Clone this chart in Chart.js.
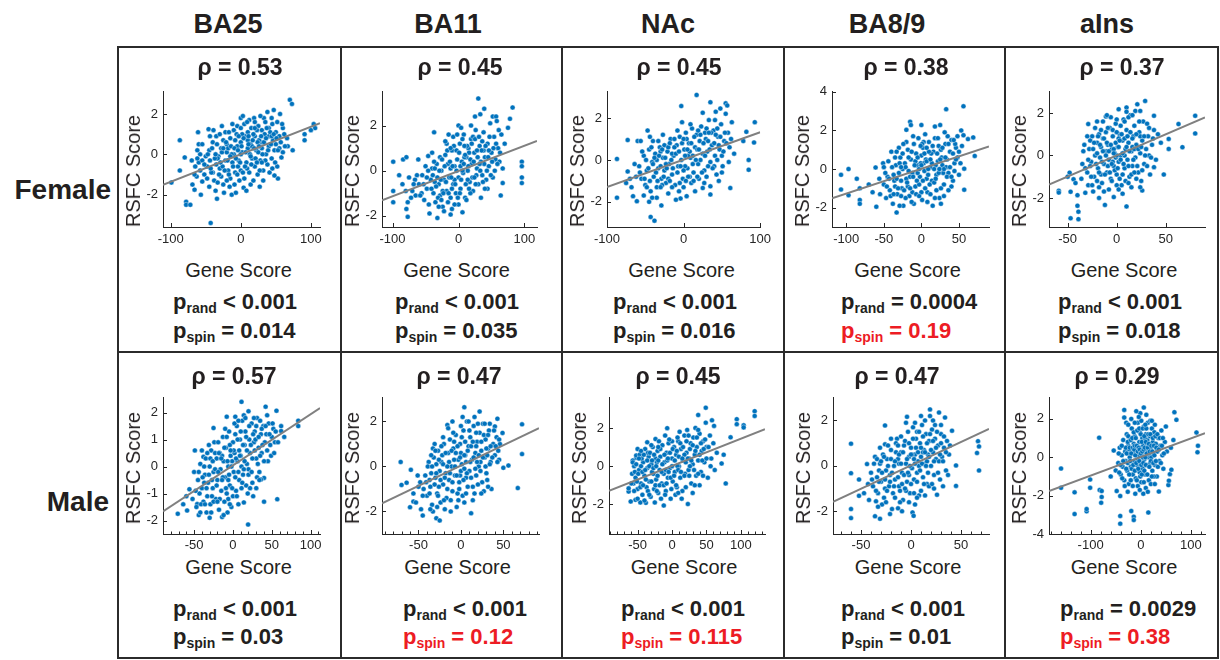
<!DOCTYPE html>
<html><head><meta charset="utf-8">
<script src="https://cdn.jsdelivr.net/npm/chart.js@4/dist/chart.umd.min.js"></script>
<style>
html,body{margin:0;padding:0;background:#fff}
body{width:1220px;height:660px;overflow:hidden;position:relative;font-family:"Liberation Sans",Arial,Helvetica,sans-serif;color:#231f20}
.abs{position:absolute;white-space:nowrap}
.hdr{font-weight:bold;font-size:27px;line-height:27px;transform:translateX(-50%)}
.row{font-weight:bold;font-size:28px;line-height:28px;transform:translateX(-100%)}
.rho{font-weight:bold;font-size:23px;line-height:23px;transform:translateX(-50%)}
.pv{font-weight:bold;font-size:22px;line-height:22px}
.pv .sub{font-size:14px;position:relative;top:4px}
.xt{font-size:20px;line-height:20px;transform:translateX(-50%)}
.yt{font-size:20px;line-height:20px;transform:translate(-50%,-50%) rotate(-90deg)}
.ln{position:absolute;background:#2b2b2b}
canvas{position:absolute}
</style></head><body>
<script>
// ---------------- data ----------------
const regions = ['BA25','BA11','NAc','BA8/9','aIns'];
const sexes = ['Female','Male'];
const rhoValues = ['0.53','0.45','0.45','0.38','0.37','0.57','0.47','0.45','0.47','0.29'];
const pRandText = ['< 0.001','< 0.001','< 0.001','= 0.0004','< 0.001','< 0.001','< 0.001','< 0.001','< 0.001','= 0.0029'];
const pSpinText = ['= 0.014','= 0.035','= 0.016','= 0.19','= 0.018','= 0.03','= 0.12','= 0.115','= 0.01','= 0.38'];
const pSpinSignificant = [true,true,true,false,true,true,false,false,true,false];
const xTickValues = [[-100,0,100],[-100,0,100],[-100,0,100],[-100,-50,0,50],[-50,0,50],[-50,0,50,100],[-50,0,50],[-50,0,50,100],[-50,0,50],[-100,0,100]];
const yTickValues = [[-2,0,2],[-2,0,2],[-2,0,2],[-2,0,2,4],[-2,0,2],[-2,-1,0,1,2],[-2,0,2],[-2,0,2],[-2,0,2],[-4,-2,0,2]];
const xLimits = [[-111,113],[-116,119],[-100,100],[-119,90],[-69,90],[-90,112],[-93,92],[-91.5,135],[-78,78],[-183,128]];
const yLimits = [[-3.6,3.1],[-2.5,3.5],[-3.2,3.25],[-3,4],[-3.37,3.0],[-2.5,2.55],[-3,3.05],[-3.55,3.58],[-3,3],[-4,3.1]];
const fitLineEnds = [
 [[-111,-1.51],[113,1.54]],[[-116,-1.32],[119,1.32]],[[-100,-1.29],[100,1.32]],[[-119,-1.52],[90,1.17]],[[-69,-1.37],[90,1.79]],
 [[-90,-1.66],[112,2.17]],[[-93,-1.64],[92,1.70]],[[-91.5,-1.29],[135,1.94]],[[-78,-1.58],[78,1.63]],[[-183,-1.76],[128,1.26]]];

const female_BA25 = [[70,2.7],[73,2.5],[47,2.2],[0,1.8],[3,1.9],[19,1.8],[33,1.8],[56,2.0],[104,1.5],[106,1.3],[100,1.2],[91,1.0],[91,0.7],[-87,0.7],[-61,1.1],[-46,1.25],[-99,-1.4],[-87,-0.8],[-80,-0.15],[-78,-2.35],[-78,-2.5],[-72,-2.5],[-34,-2.2],[-43,-3.4],[-57,-2.0],[-66,-1.75],[-69,-1.5],[-55,-1.35],[-13,-2.0],[-7,-1.9],[4,-1.65],[27,-1.6],[14,-1.5],[53,-1.2],[48,-1.05],[74,0.2],[67,0.4],[58,-0.15],
[-60,0.5],[-55,0.5],[-62,0.2],[-50,-0.1],[-45,0.2],[-40,0.6],[-35,0.9],[-30,1.0],[-25,0.7],[-20,0.5],[-15,0.8],[-10,1.2],[-5,1.4],[0,1.3],[5,1.5],[10,1.1],[15,1.3],[20,1.6],[25,1.4],[30,1.2],[35,1.6],[40,1.3],[45,1.5],[50,1.1],[55,0.9],[60,1.3],[40,0.9],[30,0.6],[20,0.9],[10,0.7],[-60,-0.4],[-58,-0.8],[-52,-1.0],[-48,-0.6],[-44,-0.3],[-40,-0.9],[-38,-1.3],[-35,-0.5],[-32,-0.1],[-30,-0.7],[-28,-1.1],[-25,-1.5],[-22,-0.3],[-20,0.1],[-18,-0.8],[-15,-1.2],[-12,-0.4],[-10,0.0],[-8,-0.9],[-5,0.4],[-3,-0.3],[0,0.6],[0,-0.8],[2,0.1],[5,-1.2],[6,0.9],[8,-0.4],[10,0.3],[12,-0.9],[14,0.5],[16,-0.2],[18,1.0],[20,-0.6],[22,0.2],[24,-1.0],[26,0.7],[28,-0.3],[30,0.3],[32,-0.8],[34,1.0],[36,0.0],[38,-0.5],[40,0.4],[42,1.1],[44,-0.2],[46,0.7],[48,0.2],[50,0.5],[52,-0.6],[55,0.3],[60,0.1],[-65,-0.6],[-63,-1.1],[-70,-0.3],[-45,-1.6],[-36,-1.8],[-24,-1.9],[-16,-1.6],[-2,-1.3],[8,-1.8],[-28,0.3],[-18,0.3],[-8,0.7],[2,1.0],[-33,-0.2],[-42,-0.9],[-55,-0.3],[12,1.7],[28,1.9],[38,2.1],[-12,1.5],[-22,1.1],[-4,-0.6],[16,0.4],[24,0.6],[-26,-0.6],[-14,0.4],[44,0.9],[62,1.0],[66,0.8],
[-52,-0.5],[-47,0.0],[-43,-0.7],[-41,0.3],[-37,-0.2],[-34,0.5],[-31,-1.0],[-29,-0.4],[-27,0.1],[-23,-0.8],[-21,0.6],[-19,-0.3],[-17,-1.0],[-13,0.0],[-11,-0.6],[-9,0.3],[-7,-0.2],[-6,1.0],[-4,0.2],[-1,-0.4],[1,0.4],[3,-0.9],[4,0.8],[7,0.1],[9,-0.7],[11,0.9],[13,0.0],[15,-0.5],[17,0.7],[19,0.3],[21,-0.2],[23,1.2],[25,0.1],[27,-0.8],[29,0.9],[31,0.0],[33,0.6],[35,-0.3],[37,1.3],[39,0.2],[41,-0.9],[43,0.5],[47,1.0],[49,-0.4],[51,0.8],[53,0.2],[57,0.6],[59,1.5],[63,0.4],[-58,0.0],[-62,-0.2],[-66,-1.0],[-39,1.2],[-27,1.4],[-17,1.1],[-3,0.9],[9,1.6],[18,-1.3],[32,-1.3],[45,-0.7],[-48,-1.2],[-33,-1.4],[-20,-1.3],[-9,-1.5],[6,-0.6],[14,-0.1],[26,0.4],[36,0.8],[-15,-0.1],[-25,0.3],[44,1.8],[52,1.6],[-5,-1.0],[20,1.3],[30,-0.4],[-36,0.0],[-44,0.9],[0,0.0],[11,0.5],[23,-0.4]];

const female_BA11 = [[30,3.2],[39,2.75],[82,2.8],[78,2.3],[52,2.4],[57,2.4],[25,2.4],[33,2.5],[0,2.0],[96,0.4],[96,0.2],[96,-0.3],[96,-0.55],[67,0.1],[67,-0.55],[64,-1.1],[-99,0.4],[-84,0.5],[-79,0.6],[-99,-0.9],[-99,-1.4],[-77,-1.4],[-79,-1.7],[-77,-2.05],[-32,-2.1],[-12,-1.95],[6,-1.85],[-37,1.7],[-15,1.6],[-61,0.5],[-46,0.65],
[-90,-0.2],[-85,-0.6],[-80,-0.9],[-75,-0.3],[-70,-0.9],[-65,-1.1],[-60,-0.6],[-55,-0.2],[-52,-1.3],[-48,-0.8],[-45,-1.5],[-42,-0.4],[-40,0.1],[-38,-1.0],[-35,-1.4],[-33,0.3],[-30,-0.6],[-28,-1.1],[-26,0.0],[-24,-1.6],[-22,-0.4],[-20,0.7],[-18,-0.9],[-16,0.3],[-14,-0.3],[-12,-1.2],[-10,0.9],[-8,-0.6],[-6,0.2],[-4,-1.0],[-2,0.5],[0,-0.3],[2,1.2],[3,-0.8],[5,0.4],[7,-0.1],[8,1.6],[10,-1.2],[12,0.6],[14,0.0],[15,1.0],[17,-0.5],[19,1.4],[20,0.3],[22,-0.9],[24,0.8],[26,1.8],[28,0.1],[30,-0.6],[32,1.1],[34,0.4],[36,-0.2],[38,1.7],[40,0.6],[42,-0.4],[44,1.2],[46,0.2],[48,2.1],[50,0.8],[52,-0.3],[54,1.5],[56,0.5],[58,2.2],[60,1.0],[62,0.4],[65,1.6],[70,1.2],[75,1.9],[-18,1.2],[-28,0.6],[-8,1.5],[4,1.9],[-50,0.2],[-36,-0.5],[-24,-0.9],[-10,-1.7],[0,-1.5],[12,-1.3],[18,-1.0],[26,-0.6],[34,-1.2],[44,-0.8],[-3,0.9],[9,0.6],[-22,-1.8],[-30,-1.6],[6,0.0],[16,0.8],[-12,0.1],[-6,-0.4],[22,1.5],[38,0.9],[-40,0.8],[-56,-1.0],[-66,-0.4],[-44,-1.9],
[-41,-0.8],[-39,-0.2],[-37,0.4],[-34,-0.7],[-31,-1.2],[-29,0.0],[-27,-0.4],[-25,0.5],[-23,-1.0],[-21,0.2],[-19,-0.5],[-17,0.9],[-15,-1.0],[-13,0.4],[-11,-0.3],[-9,0.2],[-7,1.1],[-5,-0.6],[-3,0.0],[-1,-1.2],[1,0.8],[3,0.2],[4,-0.4],[6,1.4],[8,0.3],[10,0.7],[11,-0.6],[13,1.1],[15,0.2],[16,-0.8],[18,0.5],[20,1.2],[21,-0.3],[23,0.4],[25,1.4],[27,-0.2],[29,0.6],[31,1.5],[33,0.0],[35,0.9],[37,-0.5],[39,0.3],[41,1.1],[43,0.0],[45,0.6],[47,1.5],[49,-0.2],[51,0.4],[53,1.0],[55,0.0],[57,1.2],[59,0.3],[61,1.8],[63,0.8],[-48,-0.3],[-53,-0.6],[-58,-1.1],[-63,-0.2],[-68,-0.6],[-72,-1.2],[-46,0.0],[-36,0.1],[-26,-1.3],[-16,-1.4],[-6,-1.5],[2,-1.0],[14,-0.4],[24,-0.3],[32,0.3],[40,-0.8],[-20,1.3],[-12,1.0],[-2,1.6],[9,1.1],[19,2.0],[-32,-0.3],[-10,-0.8],[28,0.9],[36,1.3],[46,0.9]];

const female_NAc = [[17,3.1],[35,2.75],[-3,2.57],[55,2.7],[57,2.6],[48,2.45],[42,2.3],[25,2.25],[93,1.8],[92,0.83],[85,0.0],[85,-0.47],[61,-1.34],[78,0.9],[82,1.34],[-87,0.05],[-87,-1.8],[-73,-0.55],[-73,0.95],[-60,0.9],[-56,0.9],[-47,1.4],[-66,-1.73],[-61,-1.97],[-43,-2.72],[-38,-2.9],[-29,-2.17],[-4,-1.84],[4,-1.73],[35,-1.65],[35,-1.26],[25,-1.34],
[-58,-0.3],[-55,-0.9],[-52,0.2],[-50,-1.2],[-48,-0.5],[-45,0.5],[-43,-1.5],[-41,-0.1],[-39,-0.8],[-37,0.3],[-35,-1.3],[-33,-0.4],[-31,0.6],[-29,-0.9],[-27,0.1],[-25,-0.5],[-23,-1.1],[-21,0.4],[-19,-0.2],[-17,1.0],[-15,-0.7],[-13,0.2],[-11,-1.2],[-9,0.7],[-7,-0.3],[-5,1.1],[-3,0.0],[-1,-0.9],[1,0.5],[3,1.3],[5,-0.4],[7,0.8],[9,0.1],[11,1.5],[13,-0.6],[15,0.6],[17,1.2],[19,-0.2],[21,0.9],[23,1.6],[25,0.3],[27,-0.5],[29,1.0],[31,0.4],[33,1.9],[35,-0.1],[37,0.7],[39,1.4],[41,0.2],[43,-0.7],[45,1.1],[47,0.5],[49,1.7],[51,-0.3],[53,0.9],[55,2.2],[58,1.3],[60,0.6],[63,1.8],[66,0.3],[-62,-0.8],[-68,-1.3],[-52,-1.7],[-45,-2.0],[-35,-1.8],[-20,-1.6],[-10,-1.9],[0,-1.3],[10,-1.1],[15,-1.5],[20,-0.9],[-40,0.9],[-30,0.4],[-25,0.7],[-15,0.3],[-8,1.4],[-35,0.0],[2,-0.3],[12,0.2],[22,0.0],[30,-0.8],[40,-0.3],[46,-1.0],[-20,-0.9],[-5,-1.1],[6,0.2],[18,0.5],[28,1.3],[-28,-1.2],[-12,0.6],[-2,1.8],[8,-0.8],[32,0.9],[44,1.5],[50,0.2],
[-57,-0.6],[-54,0.4],[-51,-0.9],[-49,0.0],[-46,-0.4],[-44,-1.0],[-42,0.6],[-40,-0.2],[-38,0.1],[-36,-0.6],[-34,-1.0],[-32,0.2],[-30,-0.3],[-28,0.5],[-26,-0.8],[-24,0.1],[-22,-0.4],[-20,0.6],[-18,-1.0],[-16,0.0],[-14,-0.4],[-12,1.0],[-10,0.3],[-8,-0.6],[-6,0.4],[-4,-0.3],[-2,0.8],[0,-0.5],[2,0.2],[4,1.0],[6,-0.8],[8,0.4],[10,0.8],[12,-0.2],[14,1.1],[16,0.0],[18,-0.8],[20,0.5],[22,1.2],[24,-0.6],[26,0.8],[28,0.2],[30,1.5],[32,-0.3],[34,0.5],[36,1.3],[38,-0.4],[40,0.8],[42,1.2],[44,0.0],[46,0.7],[48,1.1],[50,-0.6],[52,0.4],[54,1.3],[56,0.8],[59,-0.1],[62,1.0],[-64,-0.2],[-70,-0.9],[-75,-1.1],[-48,-1.3],[-41,-1.8],[-30,-1.3],[-15,-1.3],[-6,-1.5],[3,-1.0],[13,-1.0],[27,-1.1],[-44,1.1],[-27,1.2],[-18,0.8],[0,1.0],[9,1.7],[19,1.4],[33,1.3],[41,1.9],[-33,0.9],[-23,-0.2],[5,0.5]];

const female_BA8_9 = [[56,3.25],[33,3.1],[-15,2.45],[-14,2.28],[-20,2.03],[0,2.28],[18,2.2],[25,2.28],[-107,-0.3],[-97,0.0],[-107,-1.06],[-97,-1.35],[-86,-0.5],[-82,-1.0],[-82,-1.6],[-82,-1.8],[-60,-1.95],[-61,0.08],[-51,0.3],[-33,-2.25],[57,-1.07],[57,0.02],[69,1.64],[71,0.68],[62,1.55],[53,2.0],[56,1.75],
[-55,-1.3],[-50,-0.8],[-47,-1.5],[-45,-0.4],[-42,-1.1],[-40,0.9],[-38,-1.8],[-36,-0.6],[-34,0.2],[-32,-1.3],[-30,-0.2],[-28,0.6],[-26,-1.0],[-24,-1.9],[-22,0.3],[-20,-0.5],[-18,1.0],[-16,-1.4],[-14,0.5],[-12,-0.2],[-10,1.3],[-8,-0.9],[-6,0.2],[-4,1.6],[-2,-0.4],[0,0.7],[1,-1.6],[2,1.1],[4,-0.1],[6,0.5],[8,-1.2],[10,1.4],[12,0.1],[14,-0.6],[16,0.9],[18,1.6],[20,-0.3],[22,0.4],[24,-1.5],[26,1.0],[28,0.2],[30,-0.8],[32,1.3],[34,0.5],[36,-0.2],[38,0.9],[40,1.5],[42,-0.6],[44,0.3],[46,1.1],[48,0.6],[50,-0.3],[-30,1.1],[-20,1.4],[-10,-1.8],[0,-1.2],[5,1.8],[15,-1.9],[20,-1.1],[30,-1.4],[40,-0.9],[-44,0.4],[-25,0.0],[-15,-0.4],[-5,-0.2],[3,0.3],[9,0.0],[13,0.8],[19,0.2],[27,0.6],[35,1.7],[-35,-0.9],[-27,-1.4],[-12,-1.2],[-7,0.8],[7,-0.5],[11,-0.8],[23,1.2],[29,-0.2],[-3,0.0],[17,-0.7],[45,1.3],[-48,-0.2],[-18,-0.9],[3,1.4],[33,0.1],[-8,0.4],
[-43,-0.5],[-41,-1.4],[-39,0.1],[-37,-0.3],[-35,0.6],[-33,-0.5],[-31,-1.0],[-29,0.3],[-27,-0.6],[-25,0.8],[-23,-1.1],[-21,0.1],[-19,-0.7],[-17,0.6],[-15,-1.0],[-13,0.9],[-11,-0.4],[-9,0.2],[-7,-1.3],[-5,0.6],[-3,-0.8],[-1,0.3],[1,1.3],[2,-0.6],[4,0.8],[5,-1.0],[7,0.4],[9,-0.3],[10,0.9],[12,-1.3],[14,0.3],[15,1.2],[17,0.0],[19,-0.5],[21,0.8],[23,-0.2],[25,0.5],[26,-1.0],[28,1.1],[30,0.0],[32,0.6],[34,-0.4],[36,1.3],[38,0.1],[40,-0.4],[42,0.8],[44,-0.1],[46,0.5],[48,1.7],[50,0.9],[52,0.3],[54,1.2],[-46,-0.9],[-50,0.1],[-56,-0.5],[-65,-1.2],[-70,-0.8],[-37,-1.3],[-29,-1.9],[-21,-1.5],[-13,-1.7],[-3,-1.4],[8,-1.7],[18,-1.5],[26,-1.8],[36,-1.1],[-33,0.9],[-24,1.3],[-11,1.7],[-1,1.2],[7,1.1],[22,1.6],[31,1.9],[43,1.5],[-17,-0.1],[-6,-0.6],[12,0.5],[24,0.0],[-27,0.1],[0,0.2]];

const female_aIns = [[29,2.57],[21,2.41],[10,2.26],[10,2.06],[2,2.18],[80,1.87],[80,1.04],[63,1.48],[67,0.39],[53,0.31],[53,0.78],[38,-0.55],[38,1.87],[26,-1.65],[10,-2.4],[-3,-1.96],[-18,-2.0],[-12,-2.33],[-29,1.48],[-11,1.84],[-59,-1.66],[-59,-1.75],[-48,-0.81],[-44,-1.12],[-47,-1.71],[-40,-1.87],[-40,-2.37],[-39,-2.65],[-47,-2.96],[-39,-3.0],[-32,-1.76],[-29,-1.4],
[-30,-0.8],[-28,0.3],[-26,-0.3],[-25,0.9],[-23,-1.0],[-22,0.0],[-20,0.6],[-19,-0.6],[-18,1.0],[-17,-0.1],[-16,0.4],[-15,-1.3],[-14,0.8],[-13,-0.4],[-12,0.2],[-11,1.1],[-10,-0.8],[-9,0.5],[-8,-0.2],[-7,1.3],[-6,-1.1],[-5,0.3],[-4,0.9],[-3,-0.5],[-2,0.1],[-1,1.5],[0,-0.9],[1,0.4],[2,-0.3],[3,1.0],[4,0.0],[5,-1.4],[6,0.7],[7,1.7],[8,-0.6],[9,0.3],[10,1.2],[11,-0.2],[12,0.6],[13,-1.0],[14,1.9],[15,0.2],[16,-0.5],[17,0.9],[18,1.4],[19,-0.1],[20,0.5],[22,-0.8],[23,1.1],[24,0.1],[25,-1.2],[26,0.7],[27,1.6],[28,-0.4],[30,0.3],[32,0.9],[34,-0.9],[36,0.5],[38,1.2],[40,-0.2],[-35,-0.4],[-33,0.5],[-36,-1.1],[-24,-1.7],[-20,-1.2],[-8,-1.6],[0,-1.4],[6,-1.8],[15,-1.5],[20,-1.1],[-22,1.3],[-14,1.6],[-6,1.8],[4,1.4],[12,1.8],[19,2.1],[-16,-0.9],[-4,-0.3],[8,0.0],[16,0.4],[24,0.9],[-10,0.2],[2,0.8],[-1,-0.1],[-27,-0.5],[33,0.0],[45,0.6],[48,-0.9],[42,1.0],[-42,-1.3],[-50,-1.0],
[-29,-0.2],[-27,0.7],[-26,-1.0],[-24,0.3],[-23,0.6],[-21,-0.4],[-20,0.1],[-19,0.9],[-18,-0.8],[-17,0.5],[-16,1.2],[-15,-0.3],[-14,0.2],[-13,0.8],[-12,-0.9],[-11,0.0],[-10,0.6],[-9,-0.5],[-9,1.3],[-8,0.2],[-7,-0.8],[-6,0.5],[-5,-0.4],[-4,1.2],[-3,0.3],[-2,-0.7],[-1,0.6],[0,0.0],[0,1.1],[1,-0.6],[2,0.4],[3,-1.1],[3,0.7],[4,-0.2],[5,1.0],[6,0.1],[7,-0.4],[8,0.8],[9,-1.2],[10,0.4],[11,0.9],[12,-0.5],[13,0.2],[14,1.1],[15,-0.9],[16,0.8],[17,-0.2],[18,0.3],[20,1.0],[21,-0.5],[22,0.3],[23,1.6],[25,0.4],[26,-0.7],[28,0.9],[29,0.0],[31,-0.5],[33,1.3],[35,-0.1],[37,0.8],[-32,-0.6],[-34,0.2],[-30,0.9],[-25,-1.4],[-18,-1.5],[-13,-1.7],[-5,-1.2],[2,-1.6],[12,-1.3],[18,-0.8],[24,-1.5],[-20,1.6],[-10,1.9],[0,1.7],[8,1.6],[16,1.9],[24,2.1],[31,1.5],[-3,0.1],[6,-0.9]];

const male_BA25 = [[11,2.4],[42,2.22],[56,2.07],[20,2.05],[84,1.7],[84,1.5],[62,1.5],[62,1.32],[19.5,-2.15],[-71,-1.75],[-59,-1.63],[-46,-1.39],[-49,0.6],[-56,-0.84],[-25,1.43],[-8,1.85],[3,1.85],[57,-1.21],[40,-1.3],[14,-1.33],[-30,-1.9],[-14,-1.87],[-44,-1.8],[-38,0.36],[40,-0.42],[36,-0.48],
[-45,-0.5],[-43,-1.0],[-42,0.1],[-40,-0.8],[-38,-1.3],[-36,-0.3],[-35,0.3],[-33,-1.1],[-32,-0.6],[-30,0.0],[-29,-1.4],[-28,0.6],[-26,-0.8],[-25,-0.2],[-24,0.9],[-22,-1.2],[-21,0.3],[-20,-0.5],[-18,-1.6],[-17,0.5],[-16,-0.1],[-15,-0.9],[-13,1.1],[-12,0.2],[-11,-1.3],[-10,-0.4],[-9,0.7],[-8,-1.0],[-6,0.0],[-5,1.3],[-4,-0.7],[-3,0.4],[-2,-1.5],[0,0.9],[1,-0.2],[2,0.5],[4,-0.9],[5,1.5],[6,0.2],[8,-0.5],[9,1.0],[10,0.4],[12,1.7],[13,-0.3],[15,0.8],[16,1.3],[18,0.1],[19,-1.0],[21,1.0],[22,0.5],[24,1.6],[25,-0.6],[27,0.9],[28,1.3],[30,0.3],[31,1.8],[33,0.7],[34,-0.2],[36,1.2],[37,0.5],[39,1.5],[41,0.9],[43,1.2],[45,0.2],[46,1.6],[48,0.8],[50,1.1],[52,1.4],[54,0.9],[-52,-1.2],[-50,-0.2],[-48,-0.9],[-40,0.6],[-34,-1.7],[-27,-1.1],[-19,0.9],[-7,-1.7],[0,-1.1],[7,-1.4],[17,-0.7],[26,-1.1],[30,-0.8],[-23,-0.1],[-14,0.4],[-1,0.2],[11,0.0],[20,-0.3],[-31,0.8],[-37,-0.6],[3,1.2],[14,1.9],[29,1.0],[-10,1.4],[35,1.7],[58,0.9],[66,1.1],[-60,-1.1],[-64,-1.4],[-6,-1.2],[8,0.6],
[-44,-0.2],[-41,-1.4],[-39,-0.4],[-37,0.0],[-34,-0.8],[-31,-0.3],[-29,0.3],[-27,-0.5],[-25,-1.3],[-23,0.5],[-21,-0.7],[-19,-0.2],[-17,-1.2],[-15,0.3],[-13,-0.4],[-11,0.7],[-9,-0.8],[-7,0.2],[-5,-0.3],[-4,0.8],[-2,0.0],[-1,-0.8],[1,0.6],[3,-0.4],[4,0.3],[6,1.0],[7,-0.2],[9,0.4],[10,1.3],[12,-0.6],[13,0.8],[15,0.2],[17,1.1],[18,0.6],[20,-0.1],[21,1.5],[23,0.8],[25,0.3],[26,1.2],[28,0.6],[30,1.5],[32,0.1],[33,1.1],[35,0.4],[37,1.4],[38,0.8],[40,0.2],[42,1.5],[44,0.6],[47,1.2],[49,0.4],[51,1.6],[53,0.5],[55,1.3],[-47,-1.5],[-42,-1.7],[-36,-1.4],[-28,-1.7],[-20,-1.3],[-12,-1.8],[-4,-1.4],[5,-1.1],[11,-0.8],[22,-0.8],[31,-0.4],[-33,0.5],[-26,0.2],[-18,0.5],[-8,1.1],[2,1.6],[7,1.7],[16,1.8],[27,1.8],[44,1.9],[-3,0.6],[14,-0.1],[-14,-0.5],[24,-0.2],[-6,-0.5],[34,-0.5]];

const male_BA11 = [[4,2.63],[22,2.44],[72,1.87],[72,0.55],[67,-0.96],[56,0.04],[50,-0.06],[-71,0.2],[-70,-0.82],[-64,-0.72],[-59,-0.15],[-60,-1.81],[-45,-2.18],[-29,-2.3],[-25,-2.4],[12,-2.08],[-16,1.84],[-31,1.0],[43,2.12],[40,1.78],[49,1.49],[-56,-1.56],[-56,-1.2],
[-42,-0.4],[-40,-1.3],[-38,0.2],[-36,-0.9],[-34,-1.7],[-32,0.4],[-30,-0.5],[-28,-1.2],[-27,0.7],[-25,-0.2],[-24,-1.6],[-22,0.5],[-21,-0.8],[-20,1.0],[-18,-0.3],[-17,-1.4],[-15,0.6],[-14,-0.6],[-13,1.2],[-11,0.0],[-10,-1.1],[-9,0.8],[-7,-0.4],[-6,1.4],[-5,-1.8],[-3,0.3],[-2,-0.7],[-1,1.0],[1,0.1],[2,-1.3],[3,1.6],[5,0.5],[6,-0.5],[7,2.0],[9,0.9],[10,-0.2],[11,1.3],[13,0.3],[14,-0.9],[15,1.8],[17,0.6],[18,-0.4],[19,1.1],[21,0.0],[22,1.5],[24,0.7],[25,-0.7],[26,1.9],[28,0.4],[29,1.2],[30,-0.3],[32,0.8],[33,1.6],[35,0.2],[36,-1.0],[38,1.0],[40,0.5],[42,1.3],[44,0.7],[46,1.0],[-44,-1.0],[-48,-0.7],[-35,0.5],[-26,-0.9],[-19,-1.9],[-12,-1.5],[-4,-1.2],[4,-1.6],[8,-0.9],[16,-1.2],[20,-0.8],[27,-1.1],[-8,0.3],[0,0.6],[12,0.9],[23,0.2],[31,-0.6],[-15,1.7],[-29,0.1],[-37,-0.6],[-23,0.2],[-1,-0.4],[6,0.2],[18,1.5],[34,1.9],[45,0.3],[-10,2.0],[2,2.2],[-47,-1.9],[-33,-2.0],[-51,-0.4],
[-41,-0.7],[-39,0.0],[-37,-1.2],[-35,-0.3],[-33,0.8],[-31,-0.8],[-29,-0.3],[-27,-1.3],[-26,0.3],[-24,-0.6],[-23,0.9],[-21,0.1],[-19,-0.5],[-18,0.6],[-16,-1.0],[-14,0.2],[-13,-0.3],[-11,0.7],[-10,-0.7],[-8,1.1],[-7,0.0],[-5,-0.4],[-4,0.9],[-2,-1.0],[-1,0.4],[0,-0.2],[1,1.3],[3,-0.6],[4,0.5],[5,1.1],[7,-0.3],[8,0.7],[10,1.6],[11,0.2],[12,-0.5],[14,1.1],[15,0.4],[17,-0.1],[18,0.9],[20,1.9],[21,0.5],[23,-0.2],[24,1.1],[26,0.4],[27,1.4],[29,0.0],[30,0.8],[32,1.4],[34,0.1],[35,0.9],[37,0.4],[39,1.6],[41,0.9],[43,0.2],[45,1.2],[-45,-1.3],[-50,-0.9],[-53,-1.6],[-36,-1.9],[-28,-1.8],[-20,-1.5],[-12,-2.0],[-3,-1.5],[6,-1.2],[14,-1.5],[24,-1.2],[32,-0.9],[-30,0.7],[-21,1.3],[-9,1.5],[0,1.8],[9,2.0],[16,2.2],[28,1.9],[-16,0.0],[-6,0.6],[4,-0.1],[19,0.2],[-34,0.0],[31,0.5]];

const male_NAc = [[49,3.06],[38,2.68],[120,2.88],[120,2.63],[94,2.46],[94,2.2],[104,2.14],[104,2.03],[85,1.51],[49,2.28],[61,2.11],[78,-0.9],[75,0.6],[72,0.14],[-7,1.99],[23,-1.98],[-12,-2.06],[-53,-1.76],[-60,-1.85],[-63,-1.33],[-63,-1.16],[-38,-1.92],[-52,0.44],[-52,0.56],[-36,1.25],[-24,1.42],[-19,1.3],
[-58,-0.4],[-56,-0.9],[-55,0.0],[-53,-0.6],[-50,-1.2],[-48,-0.2],[-47,0.6],[-45,-0.9],[-43,-1.5],[-42,0.2],[-40,-0.5],[-39,0.9],[-37,-1.1],[-36,-0.1],[-34,0.5],[-33,-0.8],[-31,-1.6],[-30,0.1],[-28,1.0],[-27,-0.4],[-26,-1.2],[-24,0.4],[-23,-0.7],[-21,0.8],[-20,-1.4],[-18,-0.2],[-17,0.5],[-15,-0.9],[-14,1.1],[-12,-0.4],[-11,0.2],[-9,-1.3],[-8,0.7],[-6,-0.6],[-5,1.2],[-3,-0.1],[-2,-1.7],[0,0.4],[1,-0.8],[3,1.0],[4,-0.3],[6,0.6],[7,-1.1],[9,1.3],[10,0.0],[12,-0.6],[13,0.9],[15,-1.3],[16,0.3],[18,1.6],[19,-0.4],[21,0.7],[22,1.9],[24,-0.2],[25,0.4],[27,1.2],[28,-0.9],[30,0.1],[31,1.5],[33,0.6],[35,-0.5],[36,1.0],[38,0.3],[40,1.7],[42,-0.3],[43,0.8],[45,1.3],[47,0.2],[50,1.0],[52,-0.6],[55,1.6],[57,0.4],[60,1.2],[62,-0.2],[65,0.7],[-46,-1.9],[-25,-1.9],[-16,-1.7],[5,-1.5],[14,-1.7],[30,-1.4],[40,-1.0],[-10,1.6],[0,1.3],[11,1.8],[-35,0.7],[-29,-0.3],[-22,0.2],[-7,0.3],[8,0.0],[18,0.6],[26,0.0],[-44,0.4],[-50,0.9],[-57,0.3],[34,2.0],[58,2.4],
[-59,-0.9],[-57,0.2],[-55,-1.3],[-54,-0.3],[-52,0.1],[-51,-0.8],[-49,-0.4],[-48,0.4],[-46,-1.1],[-45,0.0],[-43,-0.3],[-42,-1.0],[-41,0.6],[-39,-0.2],[-38,-0.7],[-36,0.3],[-35,-1.3],[-33,0.0],[-32,0.7],[-30,-0.8],[-29,0.3],[-27,-0.1],[-26,0.6],[-24,-1.0],[-23,0.0],[-21,-0.5],[-20,0.3],[-18,-1.0],[-17,0.9],[-15,-0.3],[-14,0.1],[-12,-1.0],[-11,0.6],[-9,-0.2],[-8,-0.9],[-6,0.4],[-5,-0.3],[-3,0.7],[-2,-0.6],[0,0.0],[1,0.9],[3,-0.5],[4,0.3],[6,-1.0],[7,0.8],[9,-0.2],[10,0.5],[12,1.2],[13,-0.3],[15,0.4],[16,1.0],[18,-0.5],[20,0.2],[21,1.3],[23,0.4],[25,-0.5],[26,0.9],[28,0.3],[30,1.1],[32,-0.2],[34,0.8],[36,1.5],[38,-0.4],[40,0.6],[42,1.2],[44,0.3],[46,0.9],[48,1.4],[50,0.4],[53,1.0],[56,0.0],[-50,-1.7],[-40,-1.8],[-33,-1.5],[-22,-1.3],[-10,-1.5],[-1,-1.2],[9,-1.4],[20,-1.1],[33,-1.0],[45,-0.5],[-45,0.8],[-30,1.1],[-20,1.0],[-4,1.4],[8,1.5],[24,1.6],[38,1.9]];

const male_BA8_9 = [[19,2.49],[28,2.35],[-4,2.16],[19,2.2],[34,2.13],[41,1.55],[-60,0.98],[-60,-0.32],[-60,-1.9],[-60,-2.3],[-52,-0.6],[-52,-1.32],[-44,0.08],[-26,1.78],[-26,0.95],[67,1.09],[66,0.57],[68,0.86],[68,-0.2],[45,0.02],[45,-0.88],[26,-1.27],[1.5,-2.05],[2.6,-2.2],[-13,-1.87],[-21,-2.12],[-31,-2.33],[-36,-2.22],[-35,-1.56],
[-40,-0.3],[-38,-0.9],[-36,0.4],[-34,-0.5],[-33,-1.2],[-31,0.1],[-30,-0.7],[-28,0.5],[-27,-1.4],[-25,-0.2],[-24,0.3],[-22,-0.9],[-21,-0.4],[-20,0.7],[-18,-1.2],[-17,0.0],[-16,-0.6],[-14,1.2],[-13,0.3],[-12,-0.9],[-10,0.6],[-9,-0.3],[-8,-1.5],[-7,0.9],[-5,0.1],[-4,-0.7],[-3,1.5],[-2,0.4],[-1,-1.2],[0,0.8],[1,-0.1],[2,1.7],[3,-0.6],[4,0.5],[5,1.2],[6,-0.3],[7,0.2],[8,-1.3],[9,1.0],[10,0.4],[11,1.8],[12,-0.5],[13,0.7],[14,0.1],[15,1.4],[16,-0.8],[17,0.5],[18,1.1],[20,0.0],[21,1.6],[22,0.6],[23,-0.4],[24,1.2],[25,0.3],[27,0.9],[29,-0.6],[30,1.4],[31,0.4],[33,0.8],[35,-0.2],[36,1.1],[38,0.5],[-29,-1.7],[-19,-1.9],[-11,-1.6],[-5,-1.1],[4,-1.7],[10,-1.1],[18,-0.9],[32,-0.9],[-23,0.9],[-15,0.6],[-6,1.1],[6,1.5],[14,2.0],[24,1.8],[-2,-0.4],[8,0.0],[-12,0.1],[3,0.3],[12,0.6],[-32,-0.2],[-9,-0.8],[16,0.2],[28,0.2],[-43,-0.8],[-47,-1.2],[-26,-1.0],
[-39,-0.6],[-37,0.1],[-35,-1.1],[-34,0.3],[-32,-0.7],[-30,0.2],[-29,-0.3],[-27,0.4],[-26,-0.6],[-24,-1.1],[-23,0.0],[-21,-0.7],[-20,0.3],[-19,-0.3],[-17,-0.9],[-16,0.2],[-15,1.0],[-13,-0.5],[-12,0.5],[-11,-1.1],[-10,0.1],[-8,0.6],[-7,-0.4],[-6,-1.0],[-4,0.3],[-3,-0.3],[-2,1.0],[-1,0.0],[0,-0.8],[1,0.5],[2,1.2],[3,-1.2],[4,0.1],[5,0.8],[6,-0.7],[7,0.6],[8,1.5],[9,-0.2],[10,0.8],[11,0.1],[12,1.3],[13,-0.8],[14,0.6],[15,0.0],[16,1.0],[17,-0.3],[18,0.4],[19,1.4],[20,0.7],[21,-0.8],[22,1.1],[23,0.2],[25,0.8],[26,1.5],[27,-0.3],[29,0.5],[30,1.0],[32,0.2],[33,1.3],[35,0.6],[37,-0.4],[39,0.9],[-42,-1.5],[-33,-1.8],[-25,-1.6],[-16,-1.4],[-9,-2.0],[-2,-1.6],[6,-1.4],[14,-1.3],[23,-1.0],[-31,0.8],[-20,1.2],[-10,1.3],[-5,1.9],[4,1.9],[10,2.2],[22,2.0],[30,1.8],[-13,0.9],[0,0.5]];

const male_aIns = [[-33,2.47],[-33,2.07],[6,2.59],[11,2.21],[-1,2.3],[67,2.35],[71,1.95],[114,0.6],[113,0.26],[111,1.29],[-83,1.02],[-159,-0.59],[-159,-1.59],[-132,-1.83],[-132,-2.96],[-108,-2.82],[-108,-2.7],[-101,-1.16],[-101,-1.59],[-82,-1.71],[-78,-1.76],[-78,-2.07],[-79,-2.37],[-48,-1.76],[-41,-2.02],[-41,-3.06],[-41,-3.46],[-19,-2.8],[-14,-3.1],[-14,-3.27],[15,-2.88],[5,-1.9],[36,-1.79],[55,-1.45],[56,-1.22],[58,-0.88],[61,-0.65],[-54,0.35],[-50,-0.69],
[-45,-0.3],[-42,0.5],[-40,-0.9],[-38,0.1],[-36,-0.5],[-35,0.9],[-33,-1.2],[-31,0.3],[-30,-0.2],[-28,1.2],[-27,-0.7],[-25,0.6],[-24,-1.4],[-22,0.0],[-21,0.9],[-20,-0.5],[-18,1.5],[-17,0.3],[-16,-0.9],[-14,0.7],[-13,-0.2],[-12,1.1],[-10,-1.1],[-9,0.4],[-8,-0.4],[-6,1.8],[-5,0.1],[-4,-0.7],[-3,0.8],[-2,1.3],[-1,-0.3],[0,0.5],[1,-1.3],[2,0.2],[3,1.0],[4,-0.6],[5,0.6],[6,1.6],[7,-0.1],[8,0.3],[9,-0.9],[10,1.2],[11,0.4],[12,-0.4],[13,0.9],[14,1.8],[15,0.0],[16,-1.2],[17,0.6],[18,1.1],[19,-0.3],[20,0.4],[22,1.5],[23,-0.7],[24,0.8],[25,0.1],[27,1.3],[28,-0.4],[30,0.7],[32,-1.0],[33,0.3],[35,1.0],[37,-0.2],[39,0.6],[41,1.4],[43,0.1],[45,-0.6],[48,0.8],[50,1.6],[52,0.3],[-26,-1.8],[-11,-1.9],[-6,-1.5],[10,-1.6],[20,-1.4],[26,-1.0],[-29,1.8],[-19,2.0],[-9,2.4],[1,1.9],[19,1.9],[28,1.7],[-15,0.2],[-7,-0.1],[4,0.0],[12,0.7],[21,0.0],[-23,0.4],[-37,-1.1],[-44,0.2],[60,0.5],[65,0.9],[-60,-1.0],[-2,-0.8],[8,1.0],[16,0.2],
[-30,0.5],[-29,-0.6],[-28,0.2],[-26,0.8],[-26,-0.3],[-25,1.1],[-23,-0.9],[-22,0.5],[-21,-0.2],[-20,0.9],[-19,0.2],[-18,-0.6],[-17,1.0],[-16,0.5],[-15,-0.4],[-14,1.3],[-13,0.4],[-12,-0.7],[-12,0.6],[-11,0.1],[-10,1.0],[-9,-0.3],[-8,0.6],[-8,-1.2],[-7,1.4],[-6,0.3],[-5,-0.6],[-4,0.5],[-3,1.5],[-3,-0.2],[-2,0.4],[-1,-1.0],[0,1.2],[0,0.2],[1,-0.4],[2,0.8],[2,-0.9],[3,0.3],[4,1.5],[5,-0.3],[6,0.4],[7,1.1],[7,-0.7],[8,0.5],[9,0.0],[10,-0.4],[10,0.8],[11,1.5],[12,0.2],[13,-0.9],[14,0.5],[15,1.2],[16,0.7],[17,-0.5],[18,0.3],[19,1.2],[20,-0.2],[21,0.6],[22,-1.0],[23,0.3],[24,1.0],[25,-0.3],[26,0.6],[27,0.1],[29,1.1],[30,-0.2],[31,0.5],[33,1.2],[34,-0.5],[36,0.4],[38,1.0],[40,-0.3],[42,0.6],[44,1.0],[46,0.2],[-35,-0.2],[-38,0.6],[-40,-0.4],[-43,-0.8],[-32,-1.5],[-20,-1.2],[-16,-1.5],[-2,-1.7],[6,-1.3],[14,-1.8],[28,-1.4],[-25,1.7],[-12,1.8],[-4,2.1],[9,1.7],[22,1.9]];

const panelPoints = [female_BA25,female_BA11,female_NAc,female_BA8_9,female_aIns,male_BA25,male_BA11,male_NAc,male_BA8_9,male_aIns];

// ---------------- layout (pixels) ----------------
const plotRects = [
 [163,89,320,227],[382,89,537,227],[607,89,762,227],[832,89,989,227],[1049,89,1205,227],
 [163,395,320,534],[382,395,539,534],[609,395,765,534],[833,395,989,534],[1049,395,1205,534]];
const rhoCenterX = [240,460,679,906,1122,234,459,678,897,1117];
const pTextLeft = [173,395,613,841,1058,173,403,621,841,1060];
const headerX = [228,448,668,887,1107];
const rowLayout = [
 {labelTop:176, rhoTop:56, pRandTop:291, pSpinTop:320, geneTop:260, rsfcY:171, xPad:5},
 {labelTop:488, rhoTop:365, pRandTop:598, pSpinTop:626, geneTop:557, rsfcY:468, xPad:4}];
const minorStep = [0,0,0,0,0,10,10,10,10,20];
const FONT = '"Liberation Sans", Arial, Helvetica, sans-serif';
const AXIS = '#262626';

function addText(cls, text, left, top, color) {
  const d = document.createElement('div');
  d.className = 'abs ' + cls;
  d.textContent = text;
  d.style.left = left + 'px'; d.style.top = top + 'px';
  if (color) d.style.color = color;
  document.body.appendChild(d);
  return d;
}
function addLine(x, y, w, h) {
  const d = document.createElement('div');
  d.className = 'ln';
  d.style.cssText += `left:${x}px;top:${y}px;width:${w}px;height:${h}px`;
  document.body.appendChild(d);
}
function addP(letter, sub, rest, left, top, color) {
  const d = document.createElement('div');
  d.className = 'abs pv';
  d.style.left = left + 'px'; d.style.top = top + 'px'; d.style.color = color;
  d.appendChild(document.createTextNode(letter));
  const s = document.createElement('span'); s.className = 'sub'; s.textContent = sub; d.appendChild(s);
  d.appendChild(document.createTextNode(' ' + rest));
  document.body.appendChild(d);
}

// table grid
const colX = [118,341,562,784,1005,1218];
const rowY = [46,351,657];
colX.forEach(x => addLine(x-1, rowY[0], 2, rowY[2]-rowY[0]+2));
rowY.forEach(y => addLine(colX[0]-1, y, colX[5]-colX[0]+2, 2));

regions.forEach((r,i) => addText('hdr', r, headerX[i], 11));
addText('row', sexes[0], 111, rowLayout[0].labelTop);
addText('row', sexes[1], 109, rowLayout[1].labelTop);

const inwardTicks = {
  id: 'inwardTicks',
  afterDraw(chart, args, opts) {
    const {ctx, chartArea} = chart;
    const xs = chart.scales.x, ys = chart.scales.y;
    ctx.save();
    ctx.strokeStyle = AXIS; ctx.lineWidth = 1;
    ctx.beginPath();
    xs.ticks.forEach(t => { const p = Math.round(xs.getPixelForValue(t.value)) + 0.5; ctx.moveTo(p, chartArea.bottom); ctx.lineTo(p, chartArea.bottom - 4); });
    ys.ticks.forEach(t => { const p = Math.round(ys.getPixelForValue(t.value)) + 0.5; ctx.moveTo(chartArea.left, p); ctx.lineTo(chartArea.left + 4, p); });
    if (opts.minor) {
      for (let v = Math.ceil(xs.min / opts.minor) * opts.minor; v <= xs.max; v += opts.minor) {
        const p = Math.round(xs.getPixelForValue(v)) + 0.5;
        ctx.moveTo(p, chartArea.bottom); ctx.lineTo(p, chartArea.bottom - 2.5);
      }
    }
    ctx.stroke();
    ctx.restore();
  }
};

const PADL = 40, PADT = 10, PADR = 14, PADB = 22;
panelPoints.forEach((pts, i) => {
  const row = i < 5 ? 0 : 1;
  const L = rowLayout[row];
  const [l,t,r,b] = plotRects[i];
  const W = r - l + PADL + PADR, H = b - t + PADT + PADB;
  const c = document.createElement('canvas');
  c.width = W; c.height = H;
  c.style.left = (l - PADL) + 'px'; c.style.top = (t - PADT) + 'px';
  c.style.width = W + 'px'; c.style.height = H + 'px';
  document.body.appendChild(c);
  new Chart(c, {
    type: 'scatter',
    data: { datasets: [
      { data: fitLineEnds[i].map(([x,y]) => ({x,y})), showLine: true, borderColor: '#808080', borderWidth: 2, pointRadius: 0, order: 0 },
      { data: pts.map(([x,y]) => ({x,y})), backgroundColor: '#0072BD', borderColor: 'rgba(255,255,255,0.65)', borderWidth: 0.6, pointRadius: 2.5, order: 1 }
    ]},
    options: {
      responsive: false, animation: false, events: [],
      layout: { padding: { left: 0, top: PADT, right: PADR, bottom: 0 } },
      plugins: { legend: { display: false }, tooltip: { enabled: false }, inwardTicks: { minor: minorStep[i] } },
      scales: {
        x: { type: 'linear', min: xLimits[i][0], max: xLimits[i][1],
             grid: { display: false, drawTicks: false }, border: { display: true, color: AXIS, width: 1 },
             ticks: { font: { size: 13, family: FONT }, color: AXIS, padding: L.xPad, maxRotation: 0, autoSkip: false },
             afterBuildTicks: s => { s.ticks = xTickValues[i].map(v => ({value: v})); },
             afterFit: s => { s.height = PADB; } },
        y: { type: 'linear', min: yLimits[i][0], max: yLimits[i][1],
             grid: { display: false, drawTicks: false }, border: { display: true, color: AXIS, width: 1 },
             ticks: { font: { size: 13, family: FONT }, color: AXIS, padding: 5, autoSkip: false },
             afterBuildTicks: s => { s.ticks = yTickValues[i].map(v => ({value: v})); },
             afterFit: s => { s.width = PADL; } }
      }
    },
    plugins: [inwardTicks]
  });

  const cx = (l + r) / 2;
  addText('rho', 'ρ = ' + rhoValues[i], rhoCenterX[i], L.rhoTop);
  addText('xt', 'Gene Score', cx - 3, L.geneTop);
  addText('yt', 'RSFC Score', l - 30, L.rsfcY);
  addP('p', 'rand', pRandText[i], pTextLeft[i], L.pRandTop, '#231f20');
  addP('p', 'spin', pSpinText[i], pTextLeft[i], L.pSpinTop, pSpinSignificant[i] ? '#231f20' : '#ed1c24');
});
</script>
</body></html>
